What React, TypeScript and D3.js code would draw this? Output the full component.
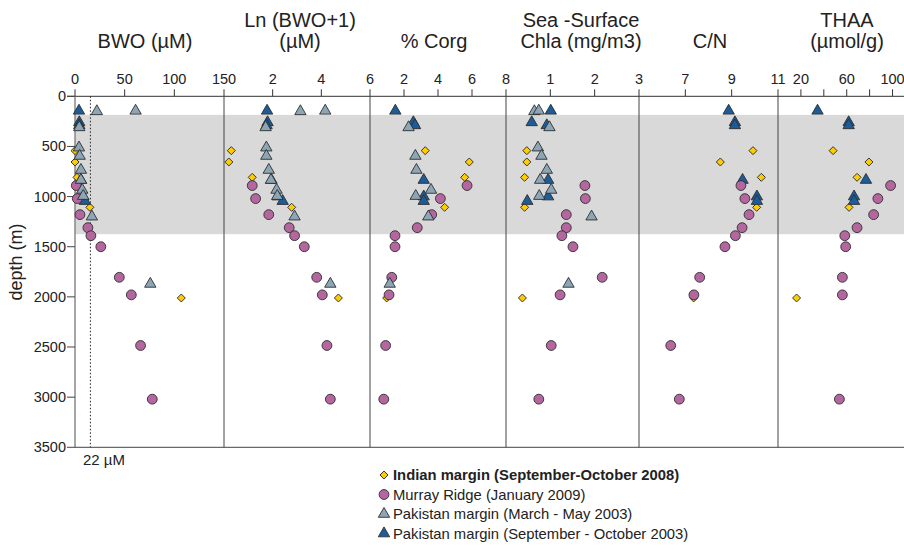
import React from "react";
import * as d3 from "d3";

// depths (m) for each cruise / station set
const depthIndian = [542, 655, 808, 1107, 2011];
const depthMurray = [890, 1020, 1180, 1310, 1390, 1500, 1805, 1980, 2485, 3020];
const depthPakMar = [150, 145, 310, 512, 595, 735, 835, 934, 995, 1200, 1871];
const depthPakSep = [145, 260, 290, 835, 1000, 1045];

// BWO (uM)
const bwoIndian = [0, 0, 2, 15, 107];
const bwoMurray = [1.3, 2.3, 5, 13, 16, 26, 44.6, 56.7, 66, 77.8];
const bwoPakMar = [22, 61, 4.3, 4, 4.7, 6, 6, 7.3, 8.3, 17, 75.8];
const bwoPakSep = [4, 4.3, 4.3, 6, 8.3, 10];

// Ln (BWO+1)
const lnIndian = [0.3, 0.2, 1.16, 2.78, 4.7];
const lnMurray = [1.16, 1.3, 1.84, 2.68, 2.9, 3.3, 3.81, 4.04, 4.23, 4.37];
const lnPakMar = [3.14, 4.16, 1.71, 1.74, 1.74, 1.84, 1.93, 2.16, 2.19, 2.9, 4.37];
const lnPakSep = [1.77, 1.79, 1.75, 1.95, 2.2, 2.41];

// % Corg
const corgIndian = [3.25, 5.84, 5.57, 4.39, 0.98];
const corgMurray = [5.71, 4.14, 3.63, 2.78, 1.47, 1.47, 1.28, 1.12, 0.92, 0.81];
const corgPakMar = [null, null, 2.27, null, 2.67, 2.73, null, 3.59, 2.69, 3.43, 1.16];
const corgPakSep = [1.49, 2.55, 2.65, 3.16, 3.16, 3.16];

// Sea-surface Chla (mg/m3)
const chlaIndian = [0.47, 0.47, 0.42, 0.42, 0.37];
const chlaMurray = [1.78, 1.79, 1.36, 1.36, 1.26, 1.51, 2.17, 1.22, 1.02, 0.74];
const chlaPakMar = [0.64, 0.74, 0.98, 0.72, 0.8, 0.92, 0.77, 1.02, 0.75, 1.93, 1.41];
const chlaPakSep = [1.01, 0.58, 0.92, 0.95, 0.95, 0.48];

// C/N
const cnIndian = [9.92, 8.51, 10.28, 10.08, 7.36];
const cnMurray = [9.4, 9.57, 9.75, 9.45, 9.16, 8.71, 7.62, 7.37, 6.37, 6.74];
const cnPakSep = [8.87, 9.14, 9.14, 9.47, 10.09, 10.09];

// THAA (umol/g)
const thaaIndian = [48.1, 79.4, 69, 62, 16.2];
const thaaMurray = [98.3, 87.2, 83.5, 69, 58.3, 59.1, 56.2, 56.2, null, 53.6];
const thaaPakSep = [34.5, 61.7, 61.7, 76.8, 66.4, 66.4];

const depthTicks = [0, 500, 1000, 1500, 2000, 2500, 3000, 3500];
const omzBand = [185, 1375];
const bwoThreshold = 15.5;
const legendLabels = [
  "Indian margin (September-October 2008)",
  "Murray Ridge (January 2009)",
  "Pakistan margin (March - May 2003)",
  "Pakistan margin (September - October 2003)",
];

type Num = number | null;
type Panel = {
  title: string[];
  titleX: number;
  domain: [number, number];
  ticks: number[];
  labels: number[];
  series: (Num[] | null)[]; // indian, murray, pakMar, pakSep
};

const panels: Panel[] = [
  { title: ["BWO (µM)"], titleX: 145, domain: [0, 150], ticks: [0, 50, 100, 150], labels: [0, 50, 100, 150],
    series: [bwoIndian, bwoMurray, bwoPakMar, bwoPakSep] },
  { title: ["Ln (BWO+1)", "(µM)"], titleX: 300, domain: [0, 6], ticks: [2, 4, 6], labels: [2, 4, 6],
    series: [lnIndian, lnMurray, lnPakMar, lnPakSep] },
  { title: ["% Corg"], titleX: 434, domain: [0, 8], ticks: [2, 4, 6, 8], labels: [2, 4, 6, 8],
    series: [corgIndian, corgMurray, corgPakMar, corgPakSep] },
  { title: ["Sea -Surface", "Chla (mg/m3)"], titleX: 581, domain: [0, 3], ticks: [1, 2, 3], labels: [1, 2, 3],
    series: [chlaIndian, chlaMurray, chlaPakMar, chlaPakSep] },
  { title: ["C/N"], titleX: 710, domain: [5, 11], ticks: [7, 9, 11], labels: [7, 9, 11],
    series: [cnIndian, cnMurray, null, cnPakSep] },
  { title: ["THAA", "(µmol/g)"], titleX: 847, domain: [0, 110], ticks: [20, 40, 60, 80, 100], labels: [20, 60, 100],
    series: [thaaIndian, thaaMurray, null, thaaPakSep] },
];

const depths = [depthIndian, depthMurray, depthPakMar, depthPakSep];

const W = 904;
const H = 554;
const bounds = [75, 224, 370, 506, 639, 778, 904];
const top = 96.3;
const bottom = 447.3;
const font = "'Liberation Sans', Arial, sans-serif";

const stroke = "#2e2e2e";
const styles = [
  { shape: d3.symbolSquare, size: 32, fill: "#FFCC00", rotate: 45 },
  { shape: d3.symbolCircle, size: 76, fill: "#B4679F", rotate: 0 },
  { shape: d3.symbolTriangle, size: 56, fill: "#8DA6B6", rotate: 0 },
  { shape: d3.symbolTriangle, size: 56, fill: "#1C5C99", rotate: 0 },
];
// drawing order (bottom to top)
const drawOrder = [0, 3, 1, 2];

function Marker({ k, x, y }: { k: number; x: number; y: number }) {
  const s = styles[k];
  const d = d3.symbol().type(s.shape).size(s.size)()!;
  return (
    <path d={d} transform={`translate(${x},${y}) rotate(${s.rotate})`} fill={s.fill} stroke={stroke} strokeWidth={0.9} />
  );
}

export default function App() {
  const y = d3.scaleLinear().domain([0, 3500]).range([top, bottom]);
  const xs = panels.map((p, i) => d3.scaleLinear().domain(p.domain).range([bounds[i], bounds[i + 1]]));

  return (
    <svg width={W} height={H} style={{ position: "absolute", left: 0, top: 0, background: "#fff" }} fontFamily={font}>
      {/* OMZ band */}
      <rect x={bounds[0]} y={y(omzBand[0])} width={bounds[6] - bounds[0]} height={y(omzBand[1]) - y(omzBand[0])} fill="#d9d9d9" />

      {/* titles */}
      {panels.map((p, i) => (
        <text key={"t" + i} x={p.titleX} textAnchor="middle" fontSize={20} fill="#222">
          {p.title.length === 1 ? (
            <tspan x={p.titleX} y={48}>{p.title[0]}</tspan>
          ) : (
            <>
              <tspan x={p.titleX} y={27}>{p.title[0]}</tspan>
              <tspan x={p.titleX} y={48}>{p.title[1]}</tspan>
            </>
          )}
        </text>
      ))}

      {/* top axes */}
      <line x1={67} x2={W} y1={top} y2={top} stroke="#333" strokeWidth={1} />
      {panels.map((p, i) => (
        <g key={"ax" + i}>
          {p.ticks.map((t) => (
            <line key={t} x1={xs[i](t)} x2={xs[i](t)} y1={top - 7} y2={top} stroke="#333" strokeWidth={1} />
          ))}
          {p.labels.map((t) => (
            <text key={"l" + t} x={xs[i](t)} y={84} textAnchor="middle" fontSize={14.5} fill="#222">{t}</text>
          ))}
        </g>
      ))}

      {/* panel dividers */}
      {bounds.slice(1, 6).map((b) => (
        <line key={"d" + b} x1={b} x2={b} y1={top} y2={bottom} stroke="#444" strokeWidth={1} />
      ))}
      <line x1={bounds[0]} x2={bounds[0]} y1={top} y2={bottom} stroke="#777" strokeWidth={1.3} />
      <line x1={bounds[0]} x2={W} y1={bottom} y2={bottom} stroke="#444" strokeWidth={1} />

      {/* depth axis */}
      {depthTicks.map((t) => (
        <g key={"dt" + t}>
          <line x1={67} x2={bounds[0]} y1={y(t)} y2={y(t)} stroke="#444" strokeWidth={1} />
          <text x={66} y={y(t) + 5} textAnchor="end" fontSize={14.5} fill="#222">{t}</text>
        </g>
      ))}
      <text transform={`translate(22,262) rotate(-90)`} textAnchor="middle" fontSize={18} fill="#222">depth (m)</text>

      {/* 22 uM threshold */}
      <line x1={xs[0](bwoThreshold)} x2={xs[0](bwoThreshold)} y1={top} y2={bottom} stroke="#222" strokeWidth={1} strokeDasharray="1.5,2" />
      <text x={83} y={465} fontSize={15} fill="#222">22 µM</text>

      {/* data */}
      {drawOrder.map((k) => (
        <g key={"s" + k}>
          {panels.map((p, i) => {
            const vals = p.series[k];
            if (!vals) return null;
            return vals.map((v, j) =>
              v === null ? null : <Marker key={`${i}-${j}`} k={k} x={xs[i](v)} y={y(depths[k][j])} />
            );
          })}
        </g>
      ))}

      {/* legend */}
      {legendLabels.map((lab, i) => {
        const cy = 475 + i * 19.5;
        return (
          <g key={"lg" + i}>
            <Marker k={i} x={384} y={cy} />
            <text x={393} y={cy + 5} fontSize={14.8} fontWeight={i === 0 ? "bold" : "normal"} fill="#222">{lab}</text>
          </g>
        );
      })}
    </svg>
  );
}
